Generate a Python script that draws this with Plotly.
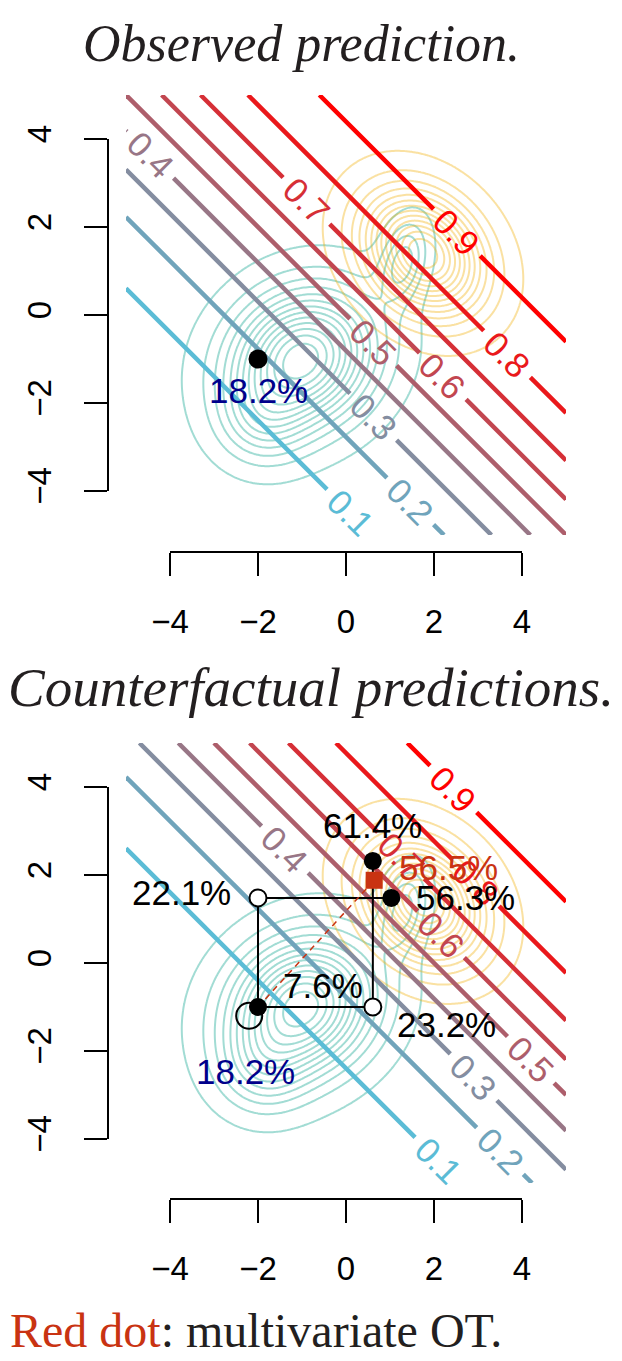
import numpy as np
import plotly.graph_objects as go

W, H = 622, 1361

# ---- logistic prediction models: logit(p) = b0 + b1*x1 + b2*x2 ----
coef_observed = [0.0, 0.5, 0.5]
coef_counterfactual = [-1.0, 0.5, 0.5]
levels = [0.1, 0.2, 0.3, 0.4, 0.5, 0.6, 0.7, 0.8, 0.9]
# where each level label sits along its line (x1 coordinate)
label_x_observed = [0.1, 1.46, 0.62, -4.45, 0.62, 2.2, -0.9, 3.66, 2.52]
label_x_counterfactual = [2.1, 3.5, 2.9, -1.39, 4.2, 2.16, 1.25, 2.95, 2.44]

# ---- group densities (Gaussian mixtures) ----
means_0 = [(-1.0, -1.0), (-1.9, -2.4), (1.3, 1.2)]
sds_0 = [(1.05, 1.0), (0.65, 0.65), (0.35, 0.6)]
rhos_0 = [0.15, 0.0, 0.3]
weights_0 = [0.86, 0.08, 0.05]

means_1 = [(1.75, 1.4)]
sds_1 = [(0.88, 0.9)]
rhos_1 = [-0.25]
weights_1 = [1.0]

# ---- individual and its counterfactual versions ----
x_start = [-2.0, -1.0]
x2_first = [[-2.0, 1.48], [1.03, 1.48]]
x1_first = [[0.61, -1.0], [0.61, 2.32]]
x_ot = [0.64, 1.88]
x_ring = [-2.2, -1.2]

ticks = [-4, -2, 0, 2, 4]

# ---- styling ----
COL_LOW = (91, 188, 214)
COL_HIGH = (255, 0, 0)
TEAL = "#00A08A"
ORANGE = "#F2AD00"
OT_RED = "#C93312"
SANS = "Liberation Sans, Arial, sans-serif"
SERIF = "Liberation Serif, Times New Roman, serif"

PX0, PX1 = 126, 566
PANELS = {"top": (95, 535, 552), "bottom": (743, 1183, 1199)}
YAXIS_X = 107.7
MIN_SEGMENT = 0.015


def sigmoid(z):
    return 1.0 / (1.0 + np.exp(-z))


def predict(coef, pt):
    return sigmoid(coef[0] + coef[1] * pt[0] + coef[2] * pt[1])


def level_color(i, n):
    t = i / (n - 1)
    r, g, b = [round(a + (c - a) * t) for a, c in zip(COL_LOW, COL_HIGH)]
    return f"rgb({r},{g},{b})"


def mixture(X, Y, means, sds, rhos, weights):
    Z = np.zeros_like(X)
    for (mx, my), (sx, sy), r, w in zip(means, sds, rhos, weights):
        dx = (X - mx) / sx
        dy = (Y - my) / sy
        q = (dx ** 2 - 2 * r * dx * dy + dy ** 2) / (1 - r ** 2)
        Z += w * np.exp(-q / 2) / (2 * np.pi * sx * sy * np.sqrt(1 - r ** 2))
    return Z / Z.max()


grid = np.linspace(-5, 5, 241)
GX, GY = np.meshgrid(grid, grid)
dens_0 = mixture(GX, GY, means_0, sds_0, rhos_0, weights_0)
dens_1 = mixture(GX, GY, means_1, sds_1, rhos_1, weights_1)

fig = go.Figure()
annotations = []


def paper_x(px):
    return px / W


def paper_y(py):
    return 1 - py / H


def add_panel(key, xa, ya, xt, yt, coef, label_x):
    y0, y1, xline = PANELS[key]
    xr, yr = (xa if xa != "x1" else "x"), (ya if ya != "y1" else "y")
    # main scales
    fig.layout[xa.replace("x", "xaxis")] = dict(
        domain=[paper_x(PX0), paper_x(PX1)], range=[-5, 5], visible=False,
        anchor=yr, fixedrange=True, automargin=False)
    fig.layout[ya.replace("y", "yaxis")] = dict(
        domain=[paper_y(y1), paper_y(y0)], range=[-5, 5], visible=False,
        anchor=xr, fixedrange=True, automargin=False)
    # R-style detached tick axes covering -4..4
    dx = (PX1 - PX0) / 10
    dy = (y1 - y0) / 10
    axis_style = dict(range=[-4, 4], tickvals=ticks, ticks="outside", ticklen=23,
                      tickwidth=2, tickcolor="black", showline=True,
                      linecolor="black", linewidth=2, showgrid=False,
                      zeroline=False, anchor="free", fixedrange=True,
                      automargin=False,
                      tickfont=dict(family=SANS, size=33, color="black"))
    fig.layout[xt.replace("x", "xaxis")] = dict(
        domain=[paper_x(PX0 + dx), paper_x(PX0 + 9 * dx)],
        position=paper_y(xline), side="bottom", ticklabelstandoff=17, **axis_style)
    fig.layout[yt.replace("y", "yaxis")] = dict(
        domain=[paper_y(y0 + 9 * dy), paper_y(y0 + dy)],
        position=paper_x(YAXIS_X), side="left", tickangle=-90,
        ticklabelstandoff=20, **axis_style)
    fig.add_trace(go.Scatter(x=[None], y=[None], xaxis=xt, yaxis=yt,
                             mode="markers", showlegend=False, hoverinfo="skip"))

    # group densities
    for dens, col in ((dens_0, TEAL), (dens_1, ORANGE)):
        fig.add_trace(go.Contour(
            x=grid, y=grid, z=dens, xaxis=xr, yaxis=yr, showscale=False,
            contours=dict(coloring="lines", start=0.035, end=0.95, size=0.075),
            colorscale=[[0, col], [1, col]], line=dict(width=2, smoothing=1),
            opacity=0.36, hoverinfo="skip"))

    # prediction level lines with a gap for each label
    px_per_x = (PX1 - PX0) / 10
    px_per_y = (y1 - y0) / 10
    angle = np.degrees(np.arctan((coef[1] / coef[2]) * px_per_y / px_per_x))
    half_gap = 0.53
    n = len(levels)
    for i, (p, lx) in enumerate(zip(levels, label_x)):
        L = np.log(p / (1 - p)) - coef[0]
        yf = lambda x: (L - coef[1] * x) / coef[2]
        xa_ = (L - coef[2] * 5) / coef[1]
        xb_ = (L + coef[2] * 5) / coef[1]
        xmin, xmax = max(-5, min(xa_, xb_)), min(5, max(xa_, xb_))
        xs, ys = [], []
        for s, e in ((xmin, lx - half_gap), (lx + half_gap, xmax)):
            if e - s > MIN_SEGMENT:
                xs += [s, e, None]
                ys += [yf(s), yf(e), None]
        col = level_color(i, n)
        fig.add_trace(go.Scatter(x=xs, y=ys, xaxis=xr, yaxis=yr, mode="lines",
                                 line=dict(color=col, width=4.5),
                                 showlegend=False, hoverinfo="skip"))
        annotations.append(dict(x=lx, y=yf(lx), xref=xr, yref=yr, text=f"{p:g}",
                                showarrow=False, textangle=angle,
                                font=dict(family=SANS, size=35, color=col),
                                xanchor="center", yanchor="middle"))


add_panel("top", "x1", "y1", "x3", "y3", coef_observed, label_x_observed)
add_panel("bottom", "x2", "y2", "x4", "y4", coef_counterfactual, label_x_counterfactual)


def pct(coef, pt):
    return f"{100 * predict(coef, pt):.1f}%"


def label(pt, text, xr, yr, color="black", xanchor="center", xshift=0, yshift=0):
    annotations.append(dict(x=pt[0], y=pt[1], xref=xr, yref=yr, text=text,
                            showarrow=False, xanchor=xanchor, yanchor="middle",
                            xshift=xshift, yshift=yshift,
                            font=dict(family=SANS, size=35, color=color)))


# ---- top panel: observed point ----
fig.add_trace(go.Scatter(x=[x_start[0]], y=[x_start[1]], xaxis="x", yaxis="y",
                         mode="markers", marker=dict(size=19, color="black"),
                         showlegend=False, hoverinfo="skip"))
label(x_start, pct(coef_observed, x_start), "x", "y", color="#00008B", yshift=-32)

# ---- bottom panel: counterfactual paths ----
path_a = [x_start, x2_first[0], x2_first[1]]
path_b = [x_start, x1_first[0], x1_first[1]]
for path in (path_a, path_b):
    fig.add_trace(go.Scatter(x=[p[0] for p in path], y=[p[1] for p in path],
                             xaxis="x2", yaxis="y2", mode="lines",
                             line=dict(color="black", width=2),
                             showlegend=False, hoverinfo="skip"))
fig.add_trace(go.Scatter(x=[x_start[0], x_ot[0]], y=[x_start[1], x_ot[1]],
                         xaxis="x2", yaxis="y2", mode="lines",
                         line=dict(color=OT_RED, width=1.5, dash="6px,5px"),
                         showlegend=False, hoverinfo="skip"))
fig.add_trace(go.Scatter(x=[x_ring[0]], y=[x_ring[1]], xaxis="x2", yaxis="y2",
                         mode="markers",
                         marker=dict(size=26, color="rgba(0,0,0,0)",
                                     line=dict(color="black", width=2)),
                         showlegend=False, hoverinfo="skip"))
mids = [x2_first[0], x1_first[0]]
fig.add_trace(go.Scatter(x=[p[0] for p in mids], y=[p[1] for p in mids],
                         xaxis="x2", yaxis="y2", mode="markers",
                         marker=dict(size=17, color="white",
                                     line=dict(color="black", width=2)),
                         showlegend=False, hoverinfo="skip"))
ends = [x_start, x2_first[1], x1_first[1]]
fig.add_trace(go.Scatter(x=[p[0] for p in ends], y=[p[1] for p in ends],
                         xaxis="x2", yaxis="y2", mode="markers",
                         marker=dict(size=18, color="black"),
                         showlegend=False, hoverinfo="skip"))
fig.add_trace(go.Scatter(x=[x_ot[0]], y=[x_ot[1]], xaxis="x2", yaxis="y2",
                         mode="markers",
                         marker=dict(size=17, color=OT_RED, symbol="square"),
                         showlegend=False, hoverinfo="skip"))

cf = coef_counterfactual
label(x_start, pct(coef_observed, x_start), "x2", "y2", color="#00008B",
      xshift=-13, yshift=-64)
label(x_start, pct(cf, x_start), "x2", "y2", xshift=65, yshift=22)
label(x2_first[0], pct(cf, x2_first[0]), "x2", "y2", xanchor="right", xshift=-25, yshift=5)
label(x2_first[1], pct(cf, x2_first[1]), "x2", "y2", xanchor="left", xshift=23)
label(x1_first[0], pct(cf, x1_first[0]), "x2", "y2", xanchor="left", xshift=22, yshift=-17)
label(x1_first[1], pct(cf, x1_first[1]), "x2", "y2", yshift=35)
label(x_ot, pct(cf, x_ot), "x2", "y2", color=OT_RED, xanchor="left", xshift=23, yshift=13)

# ---- titles and caption ----
annotations.append(dict(x=paper_x(301), y=paper_y(43), xref="paper", yref="paper",
                        text="<i>Observed prediction.</i>", showarrow=False,
                        xanchor="center", yanchor="middle",
                        font=dict(family=SERIF, size=52, color="#231F20")))
annotations.append(dict(x=paper_x(311), y=paper_y(688), xref="paper", yref="paper",
                        text="<i>Counterfactual predictions.</i>", showarrow=False,
                        xanchor="center", yanchor="middle",
                        font=dict(family=SERIF, size=55, color="#231F20")))
annotations.append(dict(x=paper_x(8), y=paper_y(1330), xref="paper", yref="paper",
                        text=f'<span style="color:{OT_RED}">Red dot</span>: multivariate OT.',
                        showarrow=False, xanchor="left", yanchor="middle",
                        font=dict(family=SERIF, size=48, color="#231F20")))

fig.update_layout(width=W, height=H,
                  margin=dict(l=0, r=0, t=0, b=0, pad=0, autoexpand=False),
                  paper_bgcolor="white", plot_bgcolor="rgba(0,0,0,0)",
                  showlegend=False, annotations=annotations)
fig.write_html("out.html")
